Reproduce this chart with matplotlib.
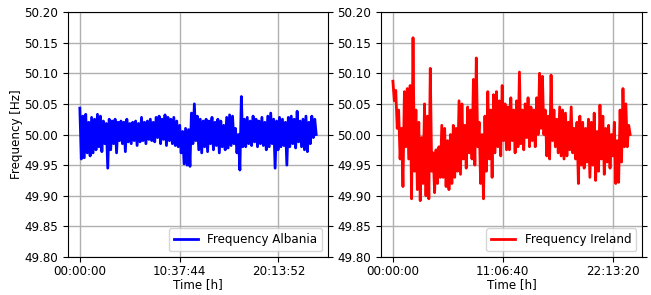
import numpy as np
import matplotlib
matplotlib.use('Agg')
import matplotlib.pyplot as plt

# deviation from 50 Hz in mHz, upper / lower envelope
alb_hi = [43, 30, 33, 20, 28, 25, 33, 30, 22, 18, 25, 22, 25, 20, 22, 20, 25, 18, 20, 22,
          18, 28, 20, 22, 25, 20, 28, 30, 25, 32, 28, 25, 28, 22, 15, 5, 10, 8, 35, 50,
          30, 25, 22, 25, 22, 28, 20, 25, 22, 15, 28, 32, 30, 10, 0, 62, 25, 28, 22, 30,
          25, 22, 28, 20, 30, 35, 25, 22, 28, 25, 20, 28, 30, 25, 38, 22, 25, 30, 20, 30, 25]
alb_lo = [-40, -38, -30, -35, -30, -25, -20, -28, -15, -55, -25, -15, -30, -10, -15, -28, -12, -15, -10, -18,
          -12, -10, -15, -8, -10, -12, -5, -15, -8, -18, -10, -15, -18, -20, -30, -48, -50, -52, -15, -10,
          -25, -30, -20, -28, -15, -25, -18, -30, -20, -25, -22, -18, -15, -30, -58, -20, -20, -15, -18, -12,
          -20, -15, -18, -25, -20, -15, -55, -25, -20, -18, -50, -20, -15, -22, -12, -20, -25, -28, -15, -5, 0]

irl_hi = [87, 72, 40, 10, 70, 75, 80, 158, 40, 20, -5, 50, 30, 108, -30, -25, -20, 15, 10, -10,
          0, 15, 10, 55, 50, 15, 45, 40, 90, 125, 20, 0, 30, 70, 40, 65, 70, 55, 80, 50,
          45, 60, 40, 55, 102, 40, 50, 60, 45, 40, 60, 100, 95, 40, 30, 97, 40, 25, 45, 40,
          35, 20, 45, 10, 20, 30, 20, 10, 25, 20, 35, 5, 48, 30, 10, 15, 0, 20, -10, 40,
          75, 50, 15]
irl_lo = [55, 10, -40, -85, -20, -40, -105, -60, -90, -108, -80, -100, -105, -60, -95, -80, -70, -70, -85, -90,
          -80, -70, -60, -65, -40, -55, -30, -40, -50, -20, -80, -105, -60, -40, -70, -30, -20, -35, -10, -25,
          -25, -10, -30, -20, -15, -25, -5, -20, -10, -20, 0, 10, 0, -35, -40, -10, -20, -30, -35, -40,
          -35, -25, -30, -40, -80, -50, -55, -45, -70, -50, -75, -60, -40, -65, -45, -55, -35, -80, -78, -45,
          -20, -20, 0]

alb_ticks = ['00:00:00', '10:37:44', '20:13:52']
irl_ticks = ['00:00:00', '11:06:40', '22:13:20']


def zigzag(hi, lo):
    # alternate upper and lower values to get the dense noisy band
    v = np.empty(2 * len(hi))
    v[0::2] = hi
    v[1::2] = lo
    return 50 + v / 1000.0


alb = zigzag(alb_hi, alb_lo)
irl = zigzag(irl_hi, irl_lo)
x_alb = np.linspace(0, 1, len(alb))
x_irl = np.linspace(0, 86400, len(irl))

plt.rcParams['font.size'] = 8.6

fig = plt.figure(figsize=(6.51, 2.95), dpi=100)
ax1 = fig.add_axes([0.1045, 0.1288, 0.3994, 0.8305])
ax2 = fig.add_axes([0.5853, 0.1288, 0.4009, 0.8305])

ax1.plot(x_alb, alb, color='b', lw=2, label='Frequency Albania')
ax1.set_xticks([0, 0.422, 0.84])
ax1.set_xticklabels(alb_ticks)
ax1.set_ylabel('Frequency [Hz]', labelpad=1)

ax2.plot(x_irl, irl, color='r', lw=2, label='Frequency Ireland')
ax2.set_xticks([0, 40000, 80000])
ax2.set_xticklabels(irl_ticks)

for ax in (ax1, ax2):
    ax.set_ylim(49.80, 50.20)
    ax.set_yticks(np.arange(49.80, 50.201, 0.05))
    ax.yaxis.set_major_formatter(matplotlib.ticker.FormatStrFormatter('%.2f'))
    ax.set_xlabel('Time [h]', labelpad=0)
    ax.grid(True, color='#b0b0b0', lw=1)
    ax.tick_params(right=True, direction='out')
    ax.tick_params(axis='x', pad=2.5)
    ax.legend(loc='lower right')

plt.savefig('out.png', dpi=100)
